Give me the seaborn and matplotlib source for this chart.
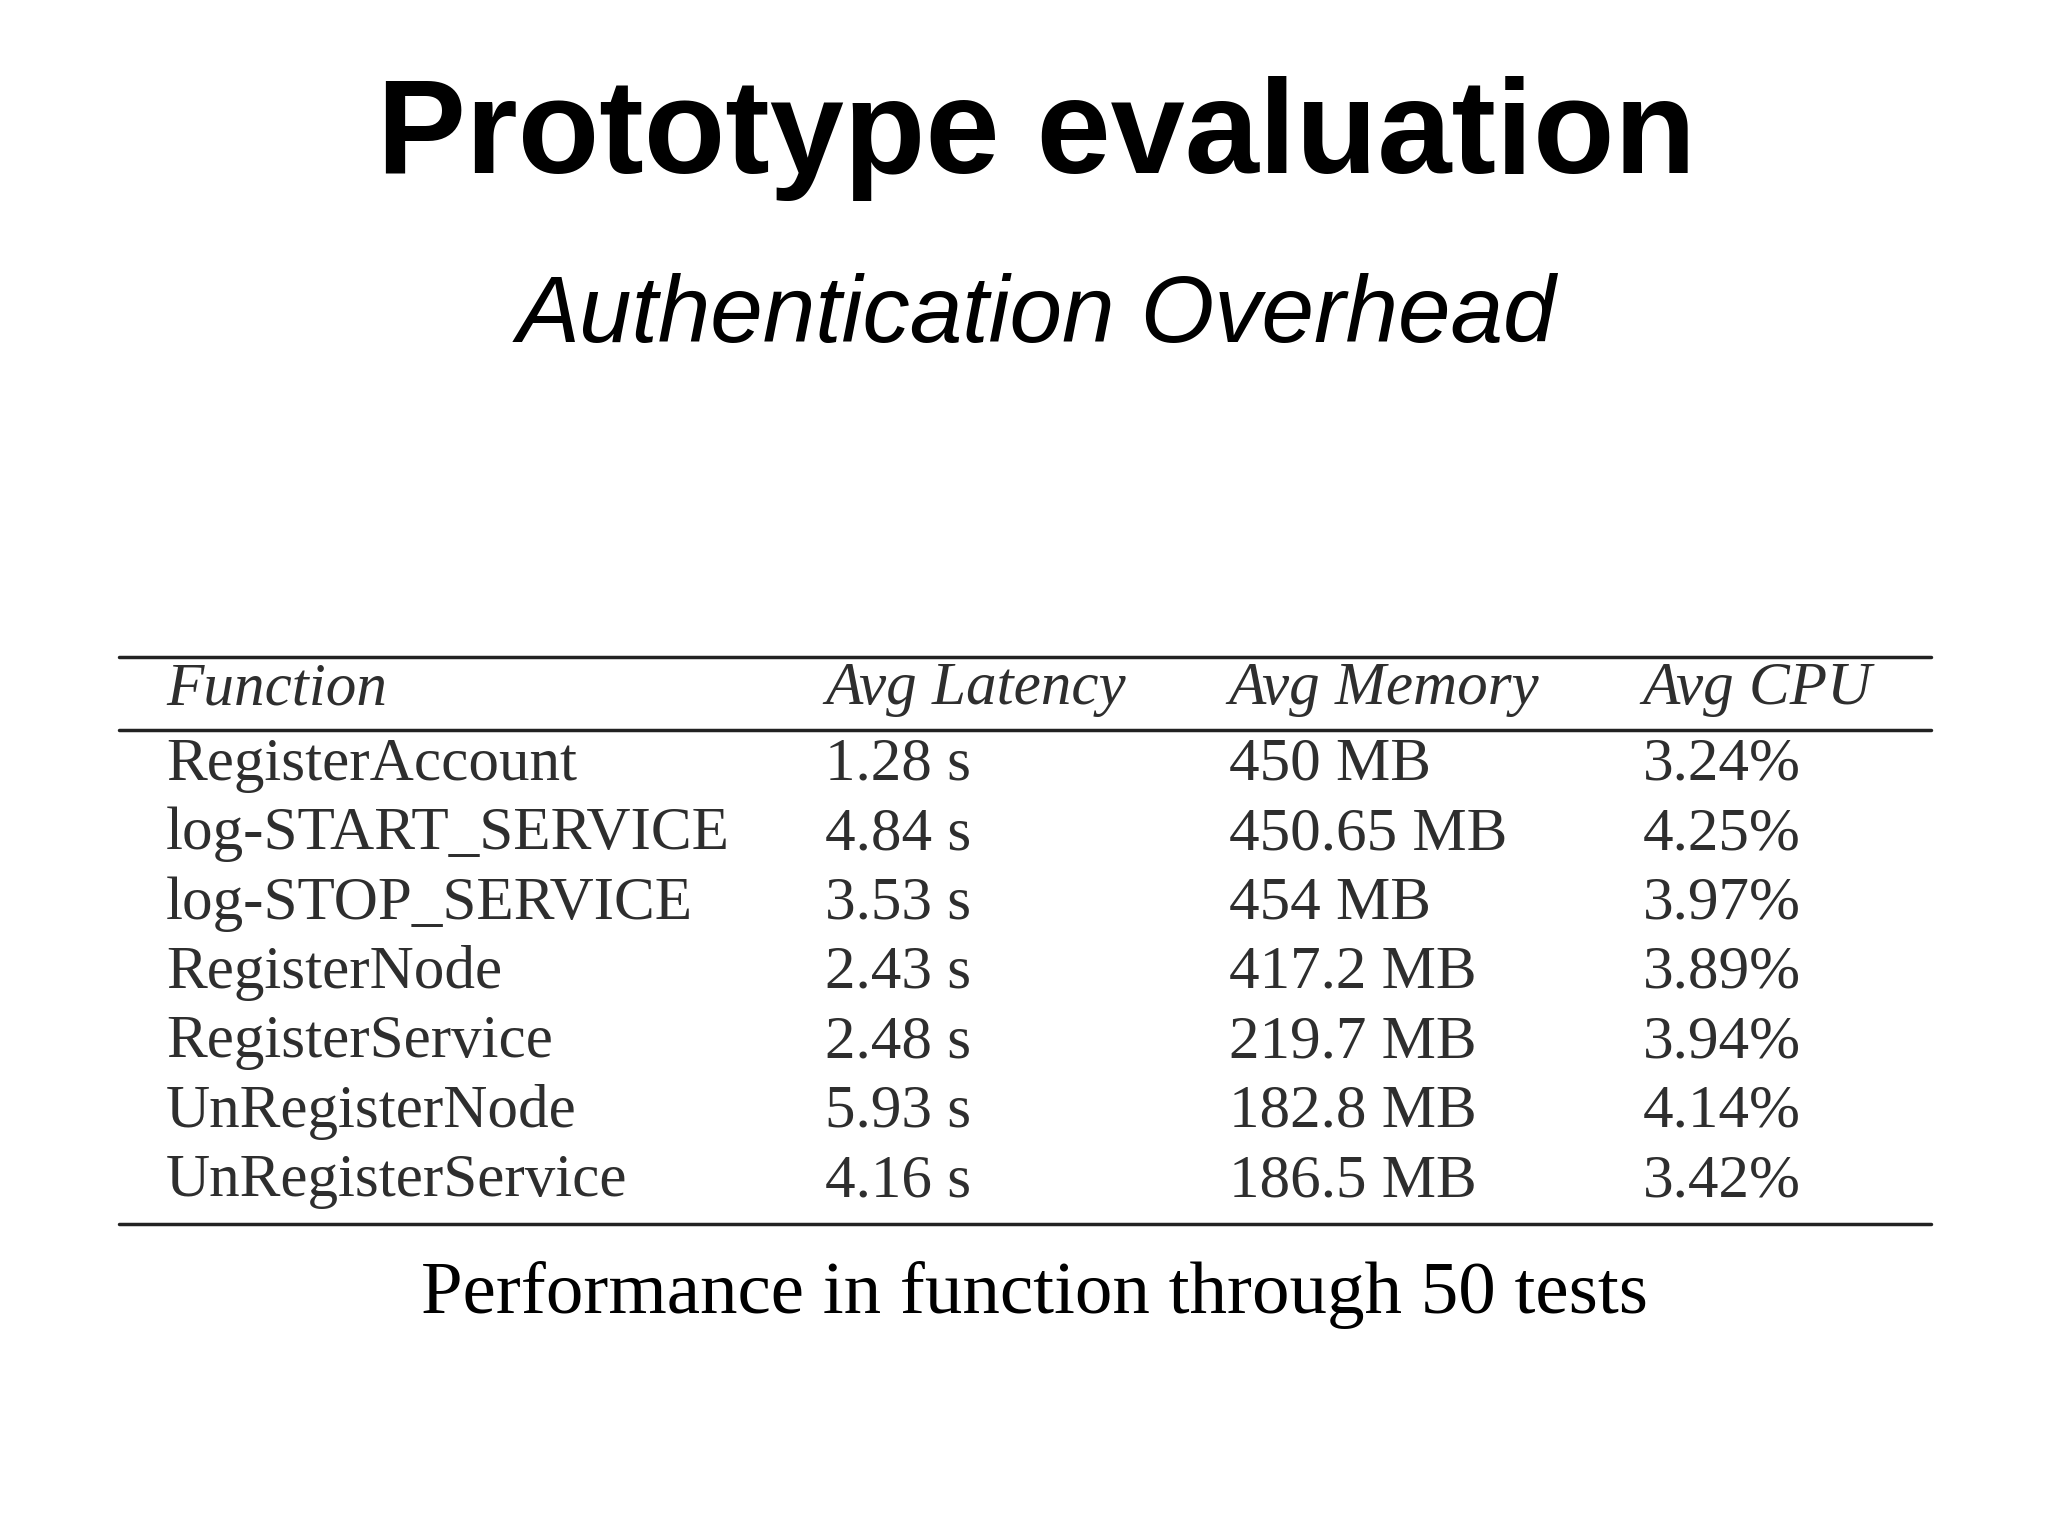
import numpy as np
import pandas as pd
import seaborn as sns
import matplotlib.pyplot as plt

title = "Prototype evaluation"
subtitle = "Authentication Overhead"
caption = "Performance in function through 50 tests"
headers = ["Function", "Avg Latency", "Avg Memory", "Avg CPU"]
functions = ["RegisterAccount", "log-START_SERVICE", "log-STOP_SERVICE", "RegisterNode",
             "RegisterService", "UnRegisterNode", "UnRegisterService"]
latency = ["1.28 s", "4.84 s", "3.53 s", "2.43 s", "2.48 s", "5.93 s", "4.16 s"]
memory = ["450 MB", "450.65 MB", "454 MB", "417.2 MB", "219.7 MB", "182.8 MB", "186.5 MB"]
cpu = ["3.24%", "4.25%", "3.97%", "3.89%", "3.94%", "4.14%", "3.42%"]

df = pd.DataFrame({headers[0]: functions, headers[1]: latency,
                   headers[2]: memory, headers[3]: cpu})

sns.set_theme(style="white")
fig = plt.figure(figsize=(20.48, 15.36), dpi=100)
fig.patch.set_facecolor("white")

fig.text(0.506, 0.91, title, ha="center", va="center", fontsize=96, weight="bold",
         family="Liberation Sans", color="black")
fig.text(0.506, 0.793, subtitle, ha="center", va="center", fontsize=68,
         style="italic", family="Liberation Sans", color="black")

ax = fig.add_axes([0, 0, 1, 1])
ax.set_xlim(0, 1)
ax.set_ylim(0, 1)
ax.axis("off")

# table rules
ax.plot([0.058, 0.943], [0.572, 0.572], color="#222222", lw=2.5)
ax.plot([0.058, 0.943], [0.525, 0.525], color="#222222", lw=2.5)
ax.plot([0.058, 0.943], [0.203, 0.203], color="#222222", lw=2.5)

col_x = [0.081, 0.403, 0.600, 0.802]
tcol = "#2e2e2e"
for x, h in zip(col_x, headers):
    ax.text(x, 0.551, h, ha="left", va="center", fontsize=44, style="italic",
            family="Liberation Serif", color=tcol)

row_y = 0.502 - 0.0452 * np.arange(len(df))
for i, y in enumerate(row_y):
    for x, col in zip(col_x, headers):
        ax.text(x, y, df[col].iloc[i], ha="left", va="center", fontsize=44,
                family="Liberation Serif", color=tcol)

fig.text(0.505, 0.157, caption, ha="center", va="center", fontsize=54,
         family="Liberation Serif", color="black")

fig.savefig("out.png", dpi=100, facecolor="white")
